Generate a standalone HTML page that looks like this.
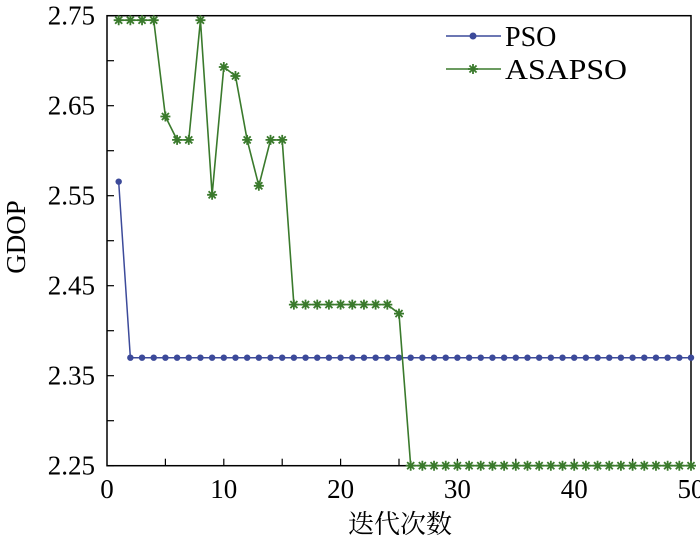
<!DOCTYPE html>
<html><head><meta charset="utf-8"><style>
html,body{margin:0;padding:0;background:#fff;}
svg{display:block;font-family:"Liberation Serif","Noto Serif CJK SC",serif;}
</style></head><body>
<svg id="s" width="700" height="543" xmlns="http://www.w3.org/2000/svg">
<rect x="107" y="15.7" width="584" height="450" fill="none" stroke="#000" stroke-width="1.5"/>
<g id="ticks" stroke="#000" stroke-width="1.2"></g>
<g font-size="27" text-anchor="end" id="yl"></g>
<g font-size="27" text-anchor="middle" id="xl"></g>
<text x="400" y="533" font-size="26" text-anchor="middle" font-family="'Liberation Serif','Noto Serif CJK SC',serif">迭代次数</text>
<text transform="translate(25,237) rotate(-90)" font-size="27" text-anchor="middle">GDOP</text>
<g id="series"></g>
<line x1="446" y1="36" x2="501" y2="36" stroke="#3c4a9a" stroke-width="1.5"/>
<circle cx="473" cy="36" r="3.5" fill="#3c4a9a"/>
<text x="505" y="46" font-size="28">PSO</text>
<line x1="446" y1="69" x2="501" y2="69" stroke="#3a7a2c" stroke-width="1.5"/>
<g id="legstar"></g>
<text x="505" y="79" font-size="28" textLength="122" lengthAdjust="spacingAndGlyphs">ASAPSO</text>
</svg>
<script>
var NS="http://www.w3.org/2000/svg";
function X(v){return 107+v*11.68;}
function Y(v){return 15.7+(2.75-v)*900;}
function el(t,a,p){var e=document.createElementNS(NS,t);for(var k in a)e.setAttribute(k,a[k]);document.getElementById(p).appendChild(e);return e;}
for(var v=2.25;v<=2.751;v+=0.05){var y=Y(v);el('line',{x1:107,y1:y,x2:114,y2:y},'ticks');}
[2.25,2.35,2.45,2.55,2.65,2.75].forEach(function(v){el('text',{x:95,y:Y(v)+9},'yl').textContent=v.toFixed(2);});
for(var i=5;i<50;i+=5){el('line',{x1:X(i),y1:465.7,x2:X(i),y2:458.7},'ticks');}
[0,10,20,30,40,50].forEach(function(v){el('text',{x:X(v),y:498},'xl').textContent=v;});
var pso=[2.5656];for(var i=2;i<=50;i++)pso.push(2.37);
var as=[2.745,2.745,2.745,2.745,2.638,2.612,2.612,2.745,2.551,2.693,2.683,2.612,2.561,2.612,2.612];
for(var i=16;i<=24;i++)as.push(2.429);as.push(2.419);for(var i=26;i<=50;i++)as.push(2.25);
function pts(a){return a.map(function(v,i){return X(i+1)+','+Y(v);}).join(' ');}
el('polyline',{points:pts(pso),fill:'none',stroke:'#3c4a9a','stroke-width':1.5},'series');
pso.forEach(function(v,i){el('circle',{cx:X(i+1),cy:Y(v),r:3.2,fill:'#3c4a9a'},'series');});
el('polyline',{points:pts(as),fill:'none',stroke:'#3a7a2c','stroke-width':1.6},'series');
function star(x,y,p){var r=5;var d='';for(var k=0;k<4;k++){var a=k*Math.PI/4;d+='M'+(x-r*Math.cos(a))+','+(y-r*Math.sin(a))+'L'+(x+r*Math.cos(a))+','+(y+r*Math.sin(a));}
el('path',{d:d,stroke:'#3a7a2c','stroke-width':1.8,fill:'none'},p);}
as.forEach(function(v,i){star(X(i+1),Y(v),'series');});
star(473,69,'legstar');
</script>
</body></html>
